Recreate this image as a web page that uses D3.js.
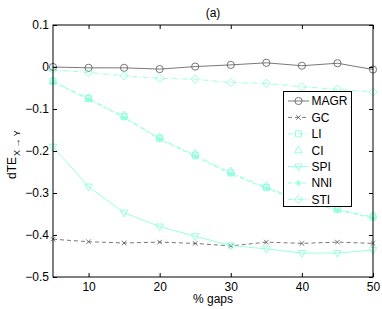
<!DOCTYPE html>
<html><head><meta charset="utf-8">
<script src="https://cdn.jsdelivr.net/npm/d3@7"></script>
<style>body{margin:0;background:#fff}svg{display:block;font-family:"Liberation Sans",Arial,sans-serif}</style>
</head><body><div id="c"></div>
<script>
const gaps = [5,10,15,20,25,30,35,40,45,50];
const MAGR = [0.000,-0.002,-0.002,-0.005,0.001,0.005,0.010,0.003,0.009,-0.006];
const GC   = [-0.410,-0.416,-0.419,-0.417,-0.420,-0.426,-0.417,-0.420,-0.417,-0.420];
const LI   = [-0.034,-0.075,-0.118,-0.170,-0.210,-0.252,-0.287,-0.318,-0.339,-0.357];
const CI   = [-0.033,-0.073,-0.115,-0.167,-0.206,-0.248,-0.283,-0.315,-0.337,-0.353];
const SPI  = [-0.190,-0.285,-0.347,-0.380,-0.403,-0.425,-0.433,-0.443,-0.443,-0.436];
const NNI  = [-0.036,-0.077,-0.121,-0.172,-0.213,-0.255,-0.289,-0.320,-0.341,-0.360];
const STI  = [-0.007,-0.013,-0.021,-0.027,-0.029,-0.037,-0.039,-0.047,-0.053,-0.059];
const xTicks = [10,20,30,40,50];
const yTicks = [0.1,0,-0.1,-0.2,-0.3,-0.4,-0.5];

const W=382,H=309, L=53, T=25, R=373, B=277;
const cyan = "#80ffd8";
const FS = 12;
const svg = d3.select("#c").append("svg").attr("width",W).attr("height",H);
const x = d3.scaleLinear().domain([5,50]).range([L,R]);
const y = d3.scaleLinear().domain([-0.5,0.1]).range([B,T]);

const series = [
  {name:"MAGR", v:MAGR, color:"#555", dash:null, marker:"circle"},
  {name:"GC", v:GC, color:"#555", dash:"4,3", marker:"x"},
  {name:"LI", v:LI, color:cyan, dash:"5,2,1,2", marker:"square"},
  {name:"CI", v:CI, color:cyan, dash:null, noline:true, marker:"tri"},
  {name:"SPI", v:SPI, color:cyan, dash:null, marker:"tridown"},
  {name:"NNI", v:NNI, color:cyan, dash:"4,3", marker:"star"},
  {name:"STI", v:STI, color:cyan, dash:"5,2,1,2", marker:"diamond"}
];

function drawMarker(g, type, cx, cy, color){
  const s=3.6;
  let p;
  if(type==="circle") return g.append("circle").attr("cx",cx).attr("cy",cy).attr("r",s).attr("fill","none").attr("stroke",color).attr("stroke-width",0.8);
  if(type==="x") p=`M${cx-2.3},${cy-2.3}L${cx+2.3},${cy+2.3}M${cx-2.3},${cy+2.3}L${cx+2.3},${cy-2.3}`;
  if(type==="square") p=`M${cx-3},${cy-3}h6v6h-6z`;
  if(type==="tri") p=`M${cx},${cy-4.2}L${cx+3.8},${cy+2.6}L${cx-3.8},${cy+2.6}Z`;
  if(type==="tridown") p=`M${cx},${cy+4.2}L${cx+3.8},${cy-2.6}L${cx-3.8},${cy-2.6}Z`;
  if(type==="diamond") p=`M${cx},${cy-4.2}L${cx+4.2},${cy}L${cx},${cy+4.2}L${cx-4.2},${cy}Z`;
  if(type==="star") p=`M${cx-3},${cy}H${cx+3}M${cx},${cy-3}V${cy+3}M${cx-2.2},${cy-2.2}L${cx+2.2},${cy+2.2}M${cx-2.2},${cy+2.2}L${cx+2.2},${cy-2.2}`;
  return g.append("path").attr("d",p).attr("fill","none").attr("stroke",color).attr("stroke-width",0.8);
}

const plot = svg.append("g");
const line = d3.line().x((d,i)=>x(gaps[i])).y(d=>y(d));
series.forEach(s=>{
  if(!s.noline){
    plot.append("path").datum(s.v).attr("d",line).attr("fill","none")
      .attr("stroke",s.color).attr("stroke-width",0.8).attr("stroke-dasharray",s.dash);
  }
  s.v.forEach((d,i)=>drawMarker(plot,s.marker,x(gaps[i]),y(d),s.color));
});

// axes box
svg.append("rect").attr("x",L).attr("y",T).attr("width",R-L).attr("height",B-T).attr("fill","none").attr("stroke","#000").attr("stroke-width",1);
const xa = d3.axisBottom(x).tickValues(xTicks).tickSizeInner(-4).tickSizeOuter(0).tickPadding(5);
svg.append("g").attr("transform",`translate(0,${B})`).call(xa);
const ya = d3.axisLeft(y).tickValues(yTicks).tickSizeInner(-4).tickSizeOuter(0).tickPadding(4)
  .tickFormat(d=>d===0?"0":d3.format(".1f")(d).replace("-","\u2212"));
svg.append("g").attr("transform",`translate(${L},0)`).call(ya);
svg.append("g").attr("transform",`translate(0,${T})`).call(d3.axisTop(x).tickValues(xTicks).tickSizeInner(-4).tickSizeOuter(0).tickFormat(""));
svg.append("g").attr("transform",`translate(${R},0)`).call(d3.axisRight(y).tickValues(yTicks).tickSizeInner(-4).tickSizeOuter(0).tickFormat(""));
svg.selectAll(".domain").remove();
svg.selectAll(".tick text").attr("font-size",FS).attr("fill","#000").attr("font-family","Liberation Sans, Arial, sans-serif");
svg.selectAll(".tick line").attr("stroke","#000");

// title and labels
svg.append("text").attr("x",213).attr("y",17).attr("text-anchor","middle").attr("font-size",FS).text("(a)");
svg.append("text").attr("x",213).attr("y",303).attr("text-anchor","middle").attr("font-size",FS).text("% gaps");
const yl = svg.append("text").attr("transform","translate(16,179) rotate(-90)").attr("font-size",FS);
yl.append("tspan").text("dTE");
yl.append("tspan").attr("font-size",9).attr("dy",4).attr("dx",1).text("X \u2192 Y");

// legend
const lg = svg.append("g");
const lx=283.5, ly=91.5, lw=68, lh=115;
lg.append("rect").attr("x",lx).attr("y",ly).attr("width",lw).attr("height",lh).attr("fill","#fff").attr("stroke","#000").attr("stroke-width",1);
series.forEach((s,i)=>{
  const cy = 101 + i*16.4;
  if(!s.noline) lg.append("line").attr("x1",288).attr("x2",309).attr("y1",cy).attr("y2",cy).attr("stroke",s.color).attr("stroke-width",0.8).attr("stroke-dasharray",s.dash);
  drawMarker(lg,s.marker,298.5,cy,s.color);
  lg.append("text").attr("x",311.5).attr("y",cy+4.3).attr("font-size",FS).text(s.name);
});
</script></body></html>
